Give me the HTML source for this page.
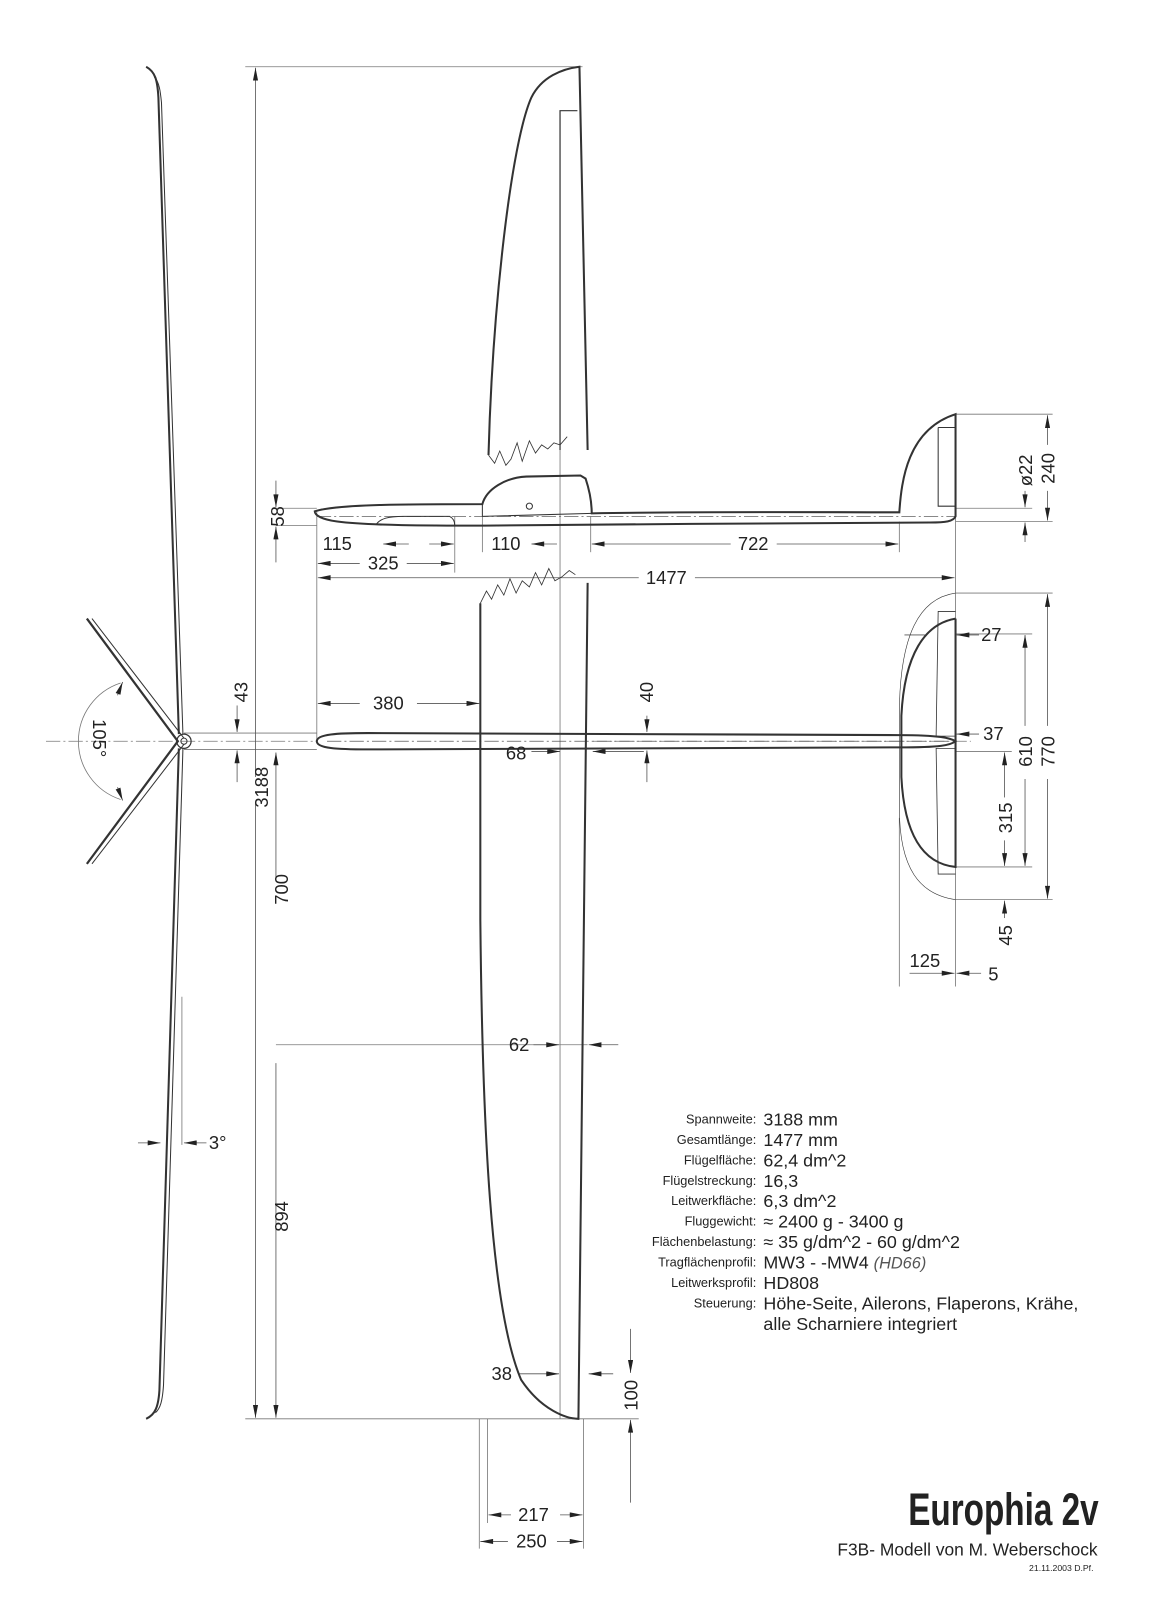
<!DOCTYPE html>
<html><head><meta charset="utf-8"><style>
html,body{margin:0;padding:0;background:#fff;}
svg{display:block}
text{font-family:"Liberation Sans",Arial,sans-serif;fill:#222}
</style></head><body>
<svg width="1163" height="1600" viewBox="0 0 1138 1565" xmlns="http://www.w3.org/2000/svg">
<defs>
<marker id="a" viewBox="0 0 10 4" refX="10" refY="2" markerWidth="14" markerHeight="5" markerUnits="userSpaceOnUse" orient="auto"><path d="M0,0 L10,2 L0,4 z" fill="#222"/></marker>
<marker id="b" viewBox="0 0 10 4" refX="0" refY="2" markerWidth="14" markerHeight="5" markerUnits="userSpaceOnUse" orient="auto"><path d="M10,0 L0,2 L10,4 z" fill="#222"/></marker>
</defs>
<g fill="none" stroke="#777" stroke-width="0.8">
<line x1="240" y1="65" x2="570" y2="65"/>
<line x1="240" y1="1388" x2="625" y2="1388"/>
<line x1="45" y1="725" x2="310" y2="725" stroke-dasharray="14,3,2,3"/>
<line x1="180" y1="717" x2="310" y2="717"/>
<line x1="180" y1="733" x2="310" y2="733"/>
<line x1="270" y1="497" x2="310" y2="497"/>
<line x1="270" y1="514" x2="310" y2="514"/>
<line x1="270" y1="1022" x2="575" y2="1022"/>
<line x1="310" y1="500" x2="310" y2="725"/>
<line x1="445" y1="505" x2="445" y2="560"/>
<line x1="472" y1="505" x2="472" y2="540"/>
<line x1="578" y1="505" x2="578" y2="540"/>
<line x1="880" y1="510" x2="880" y2="540"/>
<line x1="935" y1="505" x2="935" y2="965"/>
<line x1="880" y1="800" x2="880" y2="965"/>
<line x1="548" y1="440" x2="548" y2="1388"/>
<line x1="469" y1="1388" x2="469" y2="1515"/>
<line x1="477" y1="1388" x2="477" y2="1490"/>
<line x1="571" y1="1388" x2="571" y2="1515"/>
<line x1="178" y1="975" x2="178" y2="1120"/>
<line x1="935" y1="405" x2="1030" y2="405"/>
<line x1="935" y1="497" x2="1010" y2="497"/>
<line x1="935" y1="510" x2="1030" y2="510"/>
<line x1="935" y1="580" x2="1030" y2="580"/>
<line x1="935" y1="620" x2="1010" y2="620"/>
<line x1="935" y1="735" x2="990" y2="735"/>
<line x1="935" y1="848" x2="1010" y2="848"/>
<line x1="935" y1="880" x2="1030" y2="880"/>
<line x1="580" y1="725" x2="950" y2="725" stroke-dasharray="14,3,2,3"/>
<line x1="310" y1="505" x2="935" y2="505" stroke-dasharray="14,3,2,3"/>
<path d="M118,668 A60,60 0 0 0 118,782"/>
</g>
<g fill="none" stroke="#555" stroke-width="0.8">
<line x1="250" y1="760" x2="250" y2="66" marker-end="url(#a)"/>
<line x1="250" y1="785" x2="250" y2="1387" marker-end="url(#a)"/>
<line x1="270" y1="860" x2="270" y2="736" marker-end="url(#a)"/>
<line x1="270" y1="1040" x2="270" y2="1387" marker-end="url(#a)"/>
<line x1="232" y1="690" x2="232" y2="716" marker-end="url(#a)"/>
<line x1="232" y1="765" x2="232" y2="734" marker-end="url(#a)"/>
<line x1="270" y1="470" x2="270" y2="496" marker-end="url(#a)"/>
<line x1="270" y1="550" x2="270" y2="515" marker-end="url(#a)"/>
<line x1="375" y1="532" x2="400" y2="532" marker-start="url(#b)"/>
<line x1="420" y1="532" x2="444" y2="532" marker-end="url(#a)"/>
<line x1="520" y1="532" x2="545" y2="532" marker-start="url(#b)"/>
<line x1="715" y1="532" x2="579" y2="532" marker-end="url(#a)"/>
<line x1="760" y1="532" x2="879" y2="532" marker-end="url(#a)"/>
<line x1="352" y1="551" x2="311" y2="551" marker-end="url(#a)"/>
<line x1="398" y1="551" x2="444" y2="551" marker-end="url(#a)"/>
<line x1="625" y1="565" x2="311" y2="565" marker-end="url(#a)"/>
<line x1="680" y1="565" x2="934" y2="565" marker-end="url(#a)"/>
<line x1="352" y1="688" x2="311" y2="688" marker-end="url(#a)"/>
<line x1="408" y1="688" x2="469" y2="688" marker-end="url(#a)"/>
<line x1="633" y1="700" x2="633" y2="716" marker-end="url(#a)"/>
<line x1="633" y1="765" x2="633" y2="734" marker-end="url(#a)"/>
<line x1="520" y1="735" x2="548" y2="735" marker-end="url(#a)"/>
<line x1="630" y1="735" x2="580" y2="735" marker-end="url(#a)"/>
<line x1="522" y1="1022" x2="547" y2="1022" marker-end="url(#a)"/>
<line x1="605" y1="1022" x2="576" y2="1022" marker-end="url(#a)"/>
<line x1="507" y1="1344" x2="547" y2="1344" marker-end="url(#a)"/>
<line x1="600" y1="1344" x2="576" y2="1344" marker-end="url(#a)"/>
<line x1="617" y1="1300" x2="617" y2="1343" marker-end="url(#a)"/>
<line x1="617" y1="1470" x2="617" y2="1389" marker-end="url(#a)"/>
<line x1="500" y1="1482" x2="478" y2="1482" marker-end="url(#a)"/>
<line x1="548" y1="1482" x2="570" y2="1482" marker-end="url(#a)"/>
<line x1="497" y1="1508" x2="470" y2="1508" marker-end="url(#a)"/>
<line x1="545" y1="1508" x2="570" y2="1508" marker-end="url(#a)"/>
<line x1="135" y1="1118" x2="157" y2="1118" marker-end="url(#a)"/>
<line x1="202" y1="1118" x2="180" y2="1118" marker-end="url(#a)"/>
<line x1="1003" y1="480" x2="1003" y2="496" marker-end="url(#a)"/>
<line x1="1003" y1="530" x2="1003" y2="511" marker-end="url(#a)"/>
<line x1="1025" y1="435" x2="1025" y2="406" marker-end="url(#a)"/>
<line x1="1025" y1="480" x2="1025" y2="509" marker-end="url(#a)"/>
<line x1="1003" y1="710" x2="1003" y2="621" marker-end="url(#a)"/>
<line x1="1003" y1="762" x2="1003" y2="847" marker-end="url(#a)"/>
<line x1="1025" y1="710" x2="1025" y2="581" marker-end="url(#a)"/>
<line x1="1025" y1="762" x2="1025" y2="879" marker-end="url(#a)"/>
<line x1="983" y1="780" x2="983" y2="736" marker-end="url(#a)"/>
<line x1="983" y1="822" x2="983" y2="847" marker-end="url(#a)"/>
<line x1="983" y1="898" x2="983" y2="881" marker-end="url(#a)"/>
<line x1="958" y1="621" x2="936" y2="621" marker-end="url(#a)"/>
<line x1="885" y1="621" x2="905" y2="621"/>
<line x1="958" y1="718" x2="936" y2="718" marker-end="url(#a)"/>
<line x1="890" y1="952" x2="934" y2="952" marker-end="url(#a)"/>
<line x1="960" y1="952" x2="936" y2="952" marker-end="url(#a)"/>
<line x1="115" y1="680" x2="120" y2="667" marker-end="url(#a)"/>
<line x1="115" y1="770" x2="120" y2="783" marker-end="url(#a)"/>
</g>
<g fill="none" stroke="#333" stroke-width="2">
<path d="M143,65 C152,70 154,78 155,95 L175,718"/>
<path d="M151,75 C156,80 157,90 158,100 L179,718" stroke-width="1"/>
<path d="M175,732 L156,1360 C155,1376 152,1384 143,1388"/>
<path d="M179,732 L160,1355 C159,1370 157,1378 152,1382" stroke-width="1"/>
<path d="M85,605 L174,725 L85,845" stroke-width="2.2"/>
<path d="M90,605 L180,722 M180,728 L90,845" stroke-width="1"/>
<circle cx="180" cy="725" r="7" stroke-width="1.2"/>
<circle cx="180" cy="725" r="3" stroke-width="1"/>
<path d="M478,445 C482,300 500,140 520,95 C530,75 550,67 567,65 L575,440"/>
<path d="M548,440 L548,108 L565,108" stroke-width="1.2"/>
<path d="M478,445 l6,8 l5,-12 l6,14 l5,-6 l6,-16 l5,18 l7,-20 l6,12 l6,-8 l6,4 l6,-6 l6,2 l7,-8" stroke-width="0.8"/>
<path d="M308,500 C330,493 400,493 472,493 C476,478 495,467 515,466 L568,465 L573,468 C577,480 579,492 579,502 C700,500 800,501 880,501 C882,470 888,420 935,405 L935,505 C933,510 925,511 910,511 C800,511 600,513 475,514 C420,514 360,514 330,510 C315,508 308,504 308,500 Z"/>
<path d="M472,493 L472,505 L579,502" stroke-width="1"/>
<path d="M368,513 C372,507 380,505 395,505 L440,505 C444,507 445,510 445,514" stroke-width="1"/>
<path d="M918,418 L935,418 M918,418 L918,495 L935,495" stroke-width="1"/>
<circle cx="518" cy="495" r="3" stroke-width="1"/>
<path d="M470,590 L470,900 C472,1100 480,1280 510,1350 C530,1380 555,1388 566,1388 L575,570"/>
<path d="M470,590 l6,-12 l5,8 l6,-14 l6,10 l6,-16 l6,14 l6,-12 l7,6 l6,-14 l6,12 l7,-16 l6,12 l7,-4 l7,-6 l6,4" stroke-width="0.8"/>
<path d="M310,725 C310,718 330,717 360,717 L880,719 C920,719 930,722 935,725 C930,729 920,731 880,731 L360,733 C330,733 310,732 310,725 Z"/>
<path d="M320,725 L930,725" stroke-width="0.6" stroke-dasharray="14,3,2,3"/>
<path d="M935,605 C905,610 885,640 882,700 L882,760 C885,820 905,845 935,848 L935,605"/>
<path d="M935,580 C900,585 880,620 880,700 L880,790 C880,850 900,875 935,880" stroke-width="0.6"/>
<path d="M935,598 L918,598 L916,720 L935,720 M935,732 L916,732 L918,855 L935,855" stroke-width="0.8"/>
</g>
<g font-size="18">
<text transform="translate(256,770) rotate(-90)" text-anchor="middle" dy="6">3188</text>
<text transform="translate(276,870) rotate(-90)" text-anchor="middle" dy="6">700</text>
<text transform="translate(276,1190) rotate(-90)" text-anchor="middle" dy="6">894</text>
<text transform="translate(236,677) rotate(-90)" text-anchor="middle" dy="6">43</text>
<text transform="translate(272,505) rotate(-90)" text-anchor="middle" dy="6">58</text>
<text transform="translate(97,722) rotate(90)" text-anchor="middle" dy="6">105°</text>
<text x="330" y="538" text-anchor="middle">115</text>
<text x="495" y="538" text-anchor="middle">110</text>
<text x="737" y="538" text-anchor="middle">722</text>
<text x="375" y="557" text-anchor="middle">325</text>
<text x="652" y="571" text-anchor="middle">1477</text>
<text x="380" y="694" text-anchor="middle">380</text>
<text transform="translate(633,677) rotate(-90)" text-anchor="middle" dy="6">40</text>
<text x="505" y="743" text-anchor="middle">68</text>
<text x="508" y="1028" text-anchor="middle">62</text>
<text x="491" y="1350" text-anchor="middle">38</text>
<text transform="translate(618,1365) rotate(-90)" text-anchor="middle" dy="6">100</text>
<text x="522" y="1488" text-anchor="middle">217</text>
<text x="520" y="1514" text-anchor="middle">250</text>
<text x="213" y="1124" text-anchor="middle">3°</text>
<text x="970" y="627" text-anchor="middle">27</text>
<text x="972" y="724" text-anchor="middle">37</text>
<text transform="translate(1004,735) rotate(-90)" text-anchor="middle" dy="6">610</text>
<text transform="translate(1026,735) rotate(-90)" text-anchor="middle" dy="6">770</text>
<text transform="translate(984,800) rotate(-90)" text-anchor="middle" dy="6">315</text>
<text transform="translate(984,915) rotate(-90)" text-anchor="middle" dy="6">45</text>
<text transform="translate(1004,460) rotate(-90)" text-anchor="middle" dy="6">ø22</text>
<text transform="translate(1026,458) rotate(-90)" text-anchor="middle" dy="6">240</text>
<text x="905" y="946" text-anchor="middle">125</text>
<text x="972" y="959" text-anchor="middle">5</text>
</g>
<g font-size="12.5" text-anchor="end">
<text x="740" y="1099">Spannweite:</text>
<text x="740" y="1119">Gesamtlänge:</text>
<text x="740" y="1139">Flügelfläche:</text>
<text x="740" y="1159">Flügelstreckung:</text>
<text x="740" y="1179">Leitwerkfläche:</text>
<text x="740" y="1199">Fluggewicht:</text>
<text x="740" y="1219">Flächenbelastung:</text>
<text x="740" y="1239">Tragflächenprofil:</text>
<text x="740" y="1259">Leitwerksprofil:</text>
<text x="740" y="1279">Steuerung:</text>
</g>
<g font-size="17.5">
<text x="747" y="1101">3188 mm</text>
<text x="747" y="1121">1477 mm</text>
<text x="747" y="1141">62,4 dm^2</text>
<text x="747" y="1161">16,3</text>
<text x="747" y="1181">6,3 dm^2</text>
<text x="747" y="1201">≈ 2400 g - 3400 g</text>
<text x="747" y="1221">≈ 35 g/dm^2 - 60 g/dm^2</text>
<text x="747" y="1241">MW3 - -MW4 <tspan font-style="italic" fill="#555" font-size="16">  (HD66)</tspan></text>
<text x="747" y="1261">HD808</text>
<text x="747" y="1281">Höhe-Seite, Ailerons, Flaperons, Krähe,</text>
<text x="747" y="1301">alle Scharniere integriert</text>
</g>
<text x="1075" y="1492" text-anchor="end" font-size="44" font-weight="bold" transform="translate(1075,0) scale(0.74,1) translate(-1075,0)" fill="#333">Europhia 2v</text>
<text x="1074" y="1522" text-anchor="end" font-size="17">F3B- Modell von M. Weberschock</text>
<text x="1070" y="1537" text-anchor="end" font-size="8.5">21.11.2003  D.Pf.</text>
</svg>
</body></html>
